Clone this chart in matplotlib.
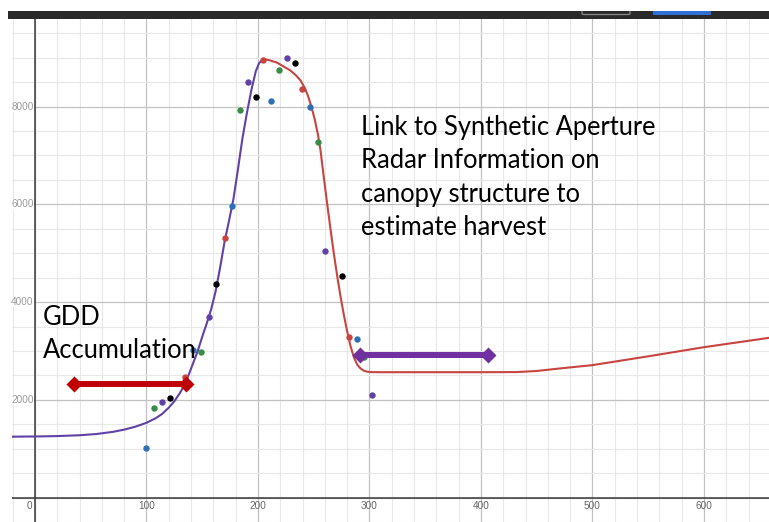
import numpy as np
import matplotlib
matplotlib.use("Agg")
import matplotlib.pyplot as plt
from matplotlib.patches import Rectangle, FancyBboxPatch

# ---- data -------------------------------------------------------------
# rising (growth) curve
rise_x = [-20.6, 0, 20, 40, 55, 70, 80, 90, 100, 108, 114, 120, 125, 130, 134,
          138, 142, 146, 150, 154, 158, 162, 166, 170, 174, 178, 182, 186,
          190, 194, 198, 201, 205]
rise_y = [1246, 1250, 1258, 1275, 1300, 1345, 1390, 1450, 1530, 1620, 1710,
          1840, 1970, 2140, 2300, 2520, 2760, 3000, 3290, 3560, 3850, 4220,
          4700, 5230, 5660, 6110, 6710, 7340, 7860, 8330, 8720, 8890, 8970]

# decline and late-season curve
fall_x = [205, 210, 217, 223, 229, 234, 238, 242, 245, 248, 251, 254, 256,
          259, 262, 265, 268, 271, 274, 277, 280, 283, 286, 289, 292, 295,
          298, 302, 310, 350, 400, 432, 450, 470, 500, 550, 600, 630, 658.3]
fall_y = [8970, 8950, 8900, 8820, 8740, 8640, 8540, 8380, 8210, 7990, 7730,
          7400, 7120, 6560, 6020, 5500, 5000, 4540, 4120, 3740, 3400, 3100,
          2870, 2720, 2640, 2595, 2575, 2567, 2565, 2565, 2565, 2568, 2590,
          2640, 2710, 2890, 3077, 3175, 3268]

# observations, grouped by series colour
obs = {
    "#c74440": ([134.3, 170.0, 204.9, 239.9, 281.4],
                [2465, 5302, 8949, 8363, 3282]),
    "#2d70b3": ([99.7, 141.5, 176.9, 211.8, 246.8, 288.6],
                [1004, 3010, 5969, 8118, 7996, 3249]),
    "#388c46": ([106.9, 149.0, 183.7, 218.6, 253.6, 295.5],
                [1841, 2976, 7935, 8745, 7269, 2880]),
    "#6042a6": ([114.0, 155.9, 190.9, 225.8, 259.9, 302.7],
                [1955, 3698, 8494, 9004, 5051, 2098]),
    "#000000": ([120.9, 162.8, 197.8, 233.0, 275.0],
                [2030, 4371, 8200, 8888, 4541]),
}

# annotation spans (x start, x end, y level)
gdd_span = [35, 135.4]
gdd_level = 2315
sar_span = [291.5, 406]
sar_level = 2927

x_major = [0, 100, 200, 300, 400, 500, 600]
y_major = [2000, 4000, 6000, 8000]

gdd_lines = ["GDD", "Accumulation"]
sar_lines = ["Link to Synthetic Aperture", "Radar Information on",
             "canopy structure to", "estimate harvest"]

# ---- figure -----------------------------------------------------------
W, H = 769, 522
fig = plt.figure(figsize=(W / 100, H / 100), dpi=100)
fig.patch.set_facecolor("white")

ax = fig.add_axes([12 / W, 0, (W - 12) / W, (H - 19) / H])
ax.set_xlim(-20.6, 658.3)
ax.set_ylim(-484, 9792)
for s in ax.spines.values():
    s.set_visible(False)

ax.set_xticks(x_major)
ax.set_xticks(np.arange(-20, 660, 20), minor=True)
ax.set_yticks([0] + y_major)
ax.set_yticks(np.arange(-500, 9800, 500), minor=True)
ax.tick_params(which="both", length=0, labelbottom=False, labelleft=False)
ax.grid(which="minor", color="#e8e8e8", lw=0.8, zorder=0)
ax.grid(which="major", color="#c2c2c2", lw=0.9, zorder=0)
ax.set_axisbelow(True)

ax.axhline(0, color="#3a3a3a", lw=1.1, zorder=1)
ax.axvline(0, color="#3a3a3a", lw=1.1, zorder=1)

lab_font = dict(family="Liberation Sans", fontsize=7.2)
ax.text(-5.4, -178, "0", color="#666666", ha="center", va="center", **lab_font)
for xv in x_major[1:]:
    ax.text(xv, -178, str(xv), color="#666666", ha="center", va="center",
            **lab_font)
for yv in y_major:
    ax.text(-1.3, yv, str(yv), color="#9a9a9a", ha="right", va="center",
            bbox=dict(facecolor="white", edgecolor="none", pad=0.3),
            **lab_font)

# curves
ax.plot(rise_x, rise_y, color="#6042a6", lw=1.5, zorder=3,
        solid_joinstyle="round")
ax.plot(fall_x, fall_y, color="#c74440", lw=1.5, zorder=3,
        solid_joinstyle="round")

# observation points
for col, (xs, ys) in obs.items():
    ax.plot(xs, ys, "o", color=col, ms=4.6, mec="none", zorder=4)

# span arrows with diamond ends
ax.plot(gdd_span, [gdd_level] * 2, color="#c00000", lw=4.3,
        solid_capstyle="butt", zorder=5)
ax.plot(gdd_span, [gdd_level] * 2, "D", color="#c00000", ms=8.2, mec="none",
        zorder=5)
ax.plot(sar_span, [sar_level] * 2, color="#7030a0", lw=4.3,
        solid_capstyle="butt", zorder=5)
ax.plot(sar_span, [sar_level] * 2, "D", color="#7030a0", ms=8.2, mec="none",
        zorder=5)

# annotation text
txt_font = dict(family="Lato", fontsize=18.4, color="black")
for i, line in enumerate(gdd_lines):
    fig.text(43 / W, 1 - (325 + 33.3 * i) / H, line, ha="left",
             va="baseline", zorder=10, **txt_font)
for i, line in enumerate(sar_lines):
    fig.text(361 / W, 1 - (135 + 33.3 * i) / H, line, ha="left",
             va="baseline", zorder=10, **txt_font)

# toolbar strip along the top
fig.patches.append(Rectangle((8 / W, 1 - 18.5 / H), (W - 8) / W, 7.5 / H,
                             transform=fig.transFigure, facecolor="#2a2a2a",
                             edgecolor="none", zorder=20))
fig.patches.append(FancyBboxPatch((582 / W, 1 - 14.5 / H), 48 / W, 10 / H,
                                  boxstyle="round,pad=0,rounding_size=0.002",
                                  transform=fig.transFigure,
                                  facecolor="#2a2a2a", edgecolor="#8a8a8a",
                                  lw=0.9, zorder=21))
fig.patches.append(Rectangle((653 / W, 1 - 15 / H), 58 / W, 4.5 / H,
                             transform=fig.transFigure, facecolor="#2f6fd6",
                             edgecolor="none", zorder=21))
# white band above the strip hides the top of the button outline
fig.patches.append(Rectangle((0, 1 - 11 / H), 1, 11 / H,
                             transform=fig.transFigure, facecolor="white",
                             edgecolor="none", zorder=22))

fig.savefig("out.png", dpi=100)
